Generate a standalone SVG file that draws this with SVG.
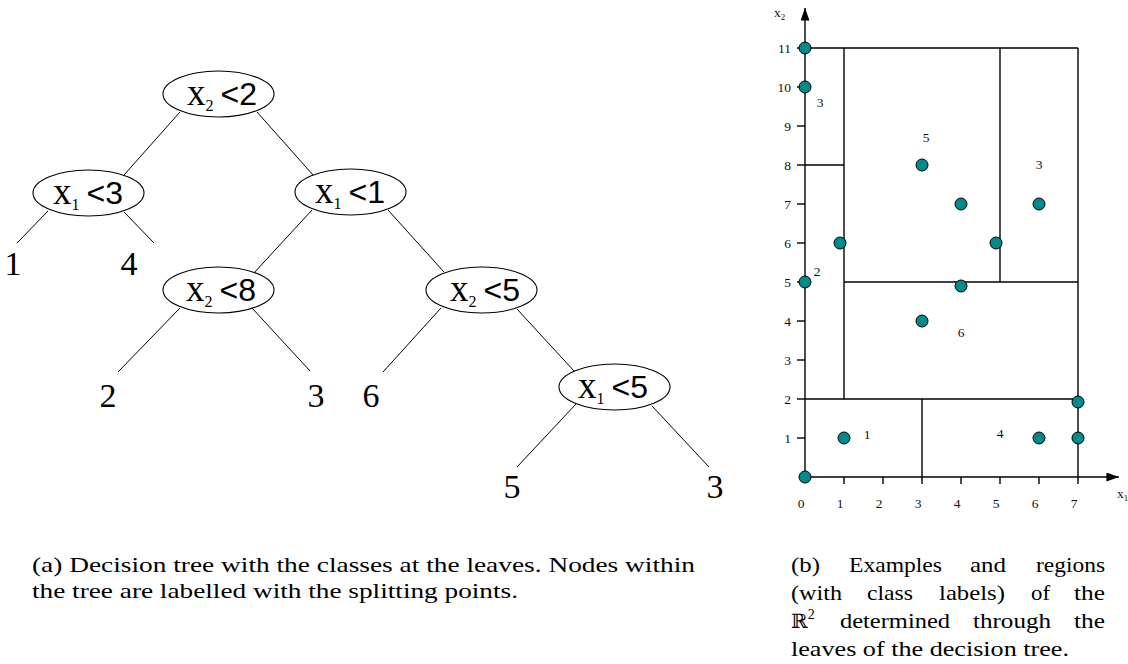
<svg xmlns="http://www.w3.org/2000/svg" width="1128" height="664" viewBox="0 0 1128 664">
  <style>
    .node ellipse { fill: #fff; stroke: #000; stroke-width: 1.1; }
    .edge line { stroke: #000; stroke-width: 1; }
    .var { font-family: "Liberation Serif", serif; font-size: 37px; }
    .sub { font-family: "Liberation Serif", serif; font-size: 16px; }
    .op { font-family: "Liberation Sans", sans-serif; font-size: 32px; }
    .leaf { font-family: "Liberation Serif", serif; font-size: 34px; text-anchor: middle; }
    .grid line, .axis line { stroke: #000; stroke-width: 1.4; }
    .tick { font-family: "Liberation Serif", serif; font-size: 13.5px; fill: #111; }
    .region { font-family: "Liberation Serif", serif; font-size: 13.5px; text-anchor: middle; fill: #111; }
    .pt { fill: #008a8a; stroke: #000; stroke-width: 1; }
    .cap { font-family: "Liberation Serif", serif; font-size: 22px; }
  </style>
  <defs>
    <marker id="arrow" viewBox="0 0 14 10" refX="14" refY="5" markerWidth="14" markerHeight="9" markerUnits="userSpaceOnUse" orient="auto">
      <path d="M0,0 L14,5 L0,10 Z" fill="#000"/>
    </marker>
  </defs>
  <rect width="1128" height="664" fill="#fff"/>

  <!-- tree connectors -->
  <g id="connectors" class="edge">
    <line x1="180" y1="112" x2="124" y2="175"/>
    <line x1="257" y1="112" x2="313" y2="175"/>
    <line x1="48" y1="211" x2="17" y2="243"/>
    <line x1="124" y1="212" x2="154" y2="243"/>
    <line x1="312" y1="210" x2="253" y2="274"/>
    <line x1="388" y1="210" x2="444" y2="272"/>
    <line x1="180" y1="308" x2="118" y2="372"/>
    <line x1="252" y1="308" x2="310" y2="371"/>
    <line x1="441" y1="308" x2="383" y2="372"/>
    <line x1="517" y1="309" x2="574" y2="371"/>
    <line x1="576" y1="404" x2="517" y2="467"/>
    <line x1="652" y1="406" x2="709" y2="467"/>
  </g>

  <!-- split nodes -->
  <g id="n-x2-lt-2" class="node">
    <ellipse cx="218.5" cy="94" rx="55.5" ry="23"/>
    <text x="187" y="105"><tspan class="var">x</tspan><tspan class="sub" dy="6">2</tspan><tspan class="op" dx="7" dy="-6">&lt;2</tspan></text>
  </g>
  <g id="n-x1-lt-3" class="node">
    <ellipse cx="88.5" cy="193" rx="55.5" ry="23"/>
    <text x="53" y="204"><tspan class="var">x</tspan><tspan class="sub" dy="6">1</tspan><tspan class="op" dx="7" dy="-6">&lt;3</tspan></text>
  </g>
  <g id="n-x1-lt-1" class="node">
    <ellipse cx="350.5" cy="192" rx="55.5" ry="23"/>
    <text x="315" y="203"><tspan class="var">x</tspan><tspan class="sub" dy="6">1</tspan><tspan class="op" dx="7" dy="-6">&lt;1</tspan></text>
  </g>
  <g id="n-x2-lt-8" class="node">
    <ellipse cx="218.5" cy="290" rx="55.5" ry="23"/>
    <text x="186" y="301"><tspan class="var">x</tspan><tspan class="sub" dy="6">2</tspan><tspan class="op" dx="7" dy="-6">&lt;8</tspan></text>
  </g>
  <g id="n-x2-lt-5" class="node">
    <ellipse cx="481.5" cy="290" rx="55.5" ry="23"/>
    <text x="450" y="301"><tspan class="var">x</tspan><tspan class="sub" dy="6">2</tspan><tspan class="op" dx="7" dy="-6">&lt;5</tspan></text>
  </g>
  <g id="n-x1-lt-5" class="node">
    <ellipse cx="614.5" cy="387" rx="55.5" ry="23"/>
    <text x="578" y="398"><tspan class="var">x</tspan><tspan class="sub" dy="6">1</tspan><tspan class="op" dx="7" dy="-6">&lt;5</tspan></text>
  </g>

  <!-- leaves (class labels) -->
  <g id="leaf-1"><text class="leaf" x="13" y="275">1</text></g>
  <g id="leaf-4"><text class="leaf" x="129" y="275">4</text></g>
  <g id="leaf-2"><text class="leaf" x="108" y="407">2</text></g>
  <g id="leaf-3a"><text class="leaf" x="316" y="407">3</text></g>
  <g id="leaf-6"><text class="leaf" x="371" y="407">6</text></g>
  <g id="leaf-5"><text class="leaf" x="512" y="498">5</text></g>
  <g id="leaf-3b"><text class="leaf" x="715" y="498">3</text></g>

  <!-- feature space plot: origin (805,477), 39 px per unit -->
  <g id="plot">
    <g class="axis">
      <line x1="805" y1="477" x2="805" y2="8" marker-end="url(#arrow)"/>
      <line x1="805" y1="477" x2="1119" y2="477" marker-end="url(#arrow)"/>
      <!-- y ticks -->
      <line x1="797" y1="48" x2="805" y2="48"/>
      <line x1="797" y1="87" x2="805" y2="87"/>
      <line x1="797" y1="126" x2="805" y2="126"/>
      <line x1="797" y1="165" x2="805" y2="165"/>
      <line x1="797" y1="204" x2="805" y2="204"/>
      <line x1="797" y1="243" x2="805" y2="243"/>
      <line x1="797" y1="282" x2="805" y2="282"/>
      <line x1="797" y1="321" x2="805" y2="321"/>
      <line x1="797" y1="360" x2="805" y2="360"/>
      <line x1="797" y1="399" x2="805" y2="399"/>
      <line x1="797" y1="438" x2="805" y2="438"/>
      <!-- x ticks -->
      <line x1="844" y1="477" x2="844" y2="484"/>
      <line x1="883" y1="477" x2="883" y2="484"/>
      <line x1="922" y1="477" x2="922" y2="484"/>
      <line x1="961" y1="477" x2="961" y2="484"/>
      <line x1="1000" y1="477" x2="1000" y2="484"/>
      <line x1="1039" y1="477" x2="1039" y2="484"/>
      <line x1="1078" y1="477" x2="1078" y2="484"/>
    </g>
    <g class="tick" text-anchor="end">
      <text x="791" y="53">11</text>
      <text x="791" y="92">10</text>
      <text x="791" y="131">9</text>
      <text x="791" y="170">8</text>
      <text x="791" y="209">7</text>
      <text x="791" y="248">6</text>
      <text x="791" y="287">5</text>
      <text x="791" y="326">4</text>
      <text x="791" y="365">3</text>
      <text x="791" y="404">2</text>
      <text x="791" y="443">1</text>
    </g>
    <g class="tick" text-anchor="middle">
      <text x="801" y="508">0</text>
      <text x="840" y="508">1</text>
      <text x="879" y="508">2</text>
      <text x="918" y="508">3</text>
      <text x="957" y="508">4</text>
      <text x="996" y="508">5</text>
      <text x="1035" y="508">6</text>
      <text x="1074" y="508">7</text>
    </g>
    <text class="tick" x="774" y="17">x<tspan font-size="9" dy="3">2</tspan></text>
    <text class="tick" x="1117" y="498">x<tspan font-size="9" dy="3">1</tspan></text>

    <!-- region boundaries -->
    <g class="grid">
      <line x1="805" y1="48" x2="1078" y2="48"/>
      <line x1="1078" y1="48" x2="1078" y2="477"/>
      <line x1="844" y1="48" x2="844" y2="399"/>
      <line x1="1000" y1="48" x2="1000" y2="282"/>
      <line x1="805" y1="165" x2="844" y2="165"/>
      <line x1="844" y1="282" x2="1078" y2="282"/>
      <line x1="805" y1="399" x2="1078" y2="399"/>
      <line x1="922" y1="399" x2="922" y2="477"/>
    </g>

    <!-- region class labels -->
    <g class="region">
      <text x="820" y="107">3</text>
      <text x="926" y="142">5</text>
      <text x="1039" y="169">3</text>
      <text x="817" y="276">2</text>
      <text x="961" y="337">6</text>
      <text x="867" y="439">1</text>
      <text x="1000" y="438">4</text>
    </g>

    <!-- examples -->
    <g class="pt">
      <circle cx="805" cy="48" r="6"/>
      <circle cx="805" cy="87" r="6"/>
      <circle cx="805" cy="282" r="6"/>
      <circle cx="805" cy="477" r="6"/>
      <circle cx="840" cy="243" r="6"/>
      <circle cx="844" cy="438" r="6"/>
      <circle cx="922" cy="165" r="6"/>
      <circle cx="922" cy="321" r="6"/>
      <circle cx="961" cy="204" r="6"/>
      <circle cx="961" cy="286" r="6"/>
      <circle cx="996" cy="243" r="6"/>
      <circle cx="1039" cy="204" r="6"/>
      <circle cx="1039" cy="438" r="6"/>
      <circle cx="1078" cy="438" r="6"/>
      <circle cx="1078" cy="402" r="6"/>
    </g>
  </g>

  <!-- captions -->
  <g id="caption-a" class="cap">
    <text x="32" y="572" textLength="663" lengthAdjust="spacingAndGlyphs">(a) Decision tree with the classes at the leaves.  Nodes within</text>
    <text x="32" y="598" textLength="486" lengthAdjust="spacingAndGlyphs">the tree are labelled with the splitting points.</text>
  </g>
  <!-- justified caption: words placed one by one -->
  <g id="caption-b" class="cap">
    <text x="791" y="572" textLength="29" lengthAdjust="spacingAndGlyphs">(b)</text>
    <text x="849" y="572" textLength="93" lengthAdjust="spacingAndGlyphs">Examples</text>
    <text x="970" y="572" textLength="36" lengthAdjust="spacingAndGlyphs">and</text>
    <text x="1036" y="572" textLength="69" lengthAdjust="spacingAndGlyphs">regions</text>

    <text x="791" y="600" textLength="51" lengthAdjust="spacingAndGlyphs">(with</text>
    <text x="867" y="600" textLength="46" lengthAdjust="spacingAndGlyphs">class</text>
    <text x="939" y="600" textLength="66" lengthAdjust="spacingAndGlyphs">labels)</text>
    <text x="1031" y="600" textLength="19" lengthAdjust="spacingAndGlyphs">of</text>
    <text x="1074" y="600" textLength="31" lengthAdjust="spacingAndGlyphs">the</text>

    <text x="791" y="628"><tspan font-family="DejaVu Serif, serif" font-size="20">ℝ</tspan><tspan font-size="14" dy="-9">2</tspan></text>
    <text x="840" y="628" textLength="110" lengthAdjust="spacingAndGlyphs">determined</text>
    <text x="973" y="628" textLength="78" lengthAdjust="spacingAndGlyphs">through</text>
    <text x="1074" y="628" textLength="31" lengthAdjust="spacingAndGlyphs">the</text>

    <text x="791" y="656" textLength="278" lengthAdjust="spacingAndGlyphs">leaves of the decision tree.</text>
  </g>
</svg>
